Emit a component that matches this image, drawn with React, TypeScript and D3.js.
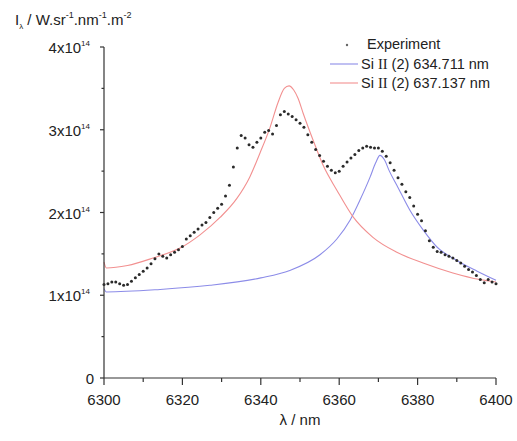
import * as d3 from "d3";

// experiment: one reading per nm, 6300..6400 (units of 1e14 W.sr-1.nm-1.m-2)
const expWavelengths = d3.range(6300, 6401, 1);
const expValues = [
  1.13, 1.14, 1.16, 1.16, 1.14, 1.12, 1.13, 1.17, 1.21, 1.25,
  1.29, 1.33, 1.38, 1.44, 1.5, 1.47, 1.45, 1.49, 1.52, 1.55,
  1.59, 1.68, 1.72, 1.76, 1.8, 1.85, 1.88, 1.94, 2.0, 2.05,
  2.1, 2.2, 2.33, 2.55, 2.78, 2.93, 2.9, 2.82, 2.79, 2.85,
  2.9, 2.97, 2.99, 2.95, 3.05, 3.18, 3.22, 3.19, 3.16, 3.12,
  3.08, 3.03, 2.94, 2.85, 2.76, 2.69, 2.62, 2.56, 2.51, 2.48,
  2.5, 2.56, 2.61, 2.66, 2.7, 2.75, 2.78, 2.8, 2.79, 2.78,
  2.78, 2.74, 2.68, 2.6, 2.51, 2.42, 2.34, 2.25, 2.18, 2.08,
  1.98, 1.9, 1.78, 1.66, 1.58, 1.53, 1.52, 1.49, 1.47, 1.45,
  1.42, 1.39, 1.35, 1.31, 1.28, 1.24, 1.19, 1.15, 1.19, 1.16,
  1.14,
];

// Si II 637.137 nm fit (red)
const redX = [6300, 6300.6, 6306, 6312.5, 6319.4, 6324.5, 6329.6, 6333.9, 6337.2, 6339.8, 6342.3, 6344.4, 6346, 6347.2, 6348.4, 6349.5, 6350.8, 6353.3, 6355.9, 6359.4, 6363.5, 6368.6, 6374.7, 6381.4, 6389, 6395.9, 6400];
const redY = [1.4, 1.33, 1.36, 1.45, 1.57, 1.73, 1.94, 2.17, 2.43, 2.72, 3.02, 3.33, 3.5, 3.53, 3.48, 3.38, 3.2, 2.88, 2.57, 2.27, 1.95, 1.7, 1.52, 1.39, 1.27, 1.19, 1.16];

// Si II 634.711 nm fit (blue)
const blueX = [6300, 6300.6, 6314.3, 6327, 6340, 6347.4, 6355.1, 6359.4, 6362.8, 6365.3, 6367.9, 6369.3, 6370.4, 6371.5, 6372.8, 6374.7, 6378, 6381.4, 6385, 6390, 6395.2, 6400];
const blueY = [1.08, 1.04, 1.07, 1.12, 1.21, 1.3, 1.49, 1.68, 1.91, 2.15, 2.43, 2.6, 2.69, 2.64, 2.5, 2.33, 2.03, 1.79, 1.58, 1.42, 1.29, 1.18];

const xMajor = [6300, 6320, 6340, 6360, 6380, 6400];
const xMinor = [6310, 6330, 6350, 6370, 6390];
const yMajor = [0, 1, 2, 3, 4];
const yMinor = [0.5, 1.5, 2.5, 3.5];

const FONT = "'Liberation Sans', Arial, sans-serif";
const SERIF = "'Liberation Serif', 'Times New Roman', serif";
const AXIS = "#333";
const BLUE = "#8c8ce8";
const RED = "#f29090";

export default function App() {
  const width = 517;
  const height = 441;

  const x = d3.scaleLinear().domain([6300, 6400]).range([104, 496]);
  const y = d3.scaleLinear().domain([0, 4]).range([378, 47]);

  const fitLine = d3
    .line<[number, number]>()
    .x((d) => x(d[0]))
    .y((d) => y(d[1]))
    .curve(d3.curveMonotoneX);

  const redPts = redX.map((v, i) => [v, redY[i]] as [number, number]);
  const bluePts = blueX.map((v, i) => [v, blueY[i]] as [number, number]);

  return (
    <svg
      width={width}
      height={height}
      style={{ position: "absolute", left: 0, top: 0, background: "#fff" }}
      fontFamily={FONT}
    >
      {/* y title */}
      <text x={15} y={25} fontSize={15} fill="#222">
        I<tspan fontSize={8} dy={4}>λ</tspan>
        <tspan fontSize={15} dy={-4}> / W.sr</tspan>
        <tspan fontSize={9} dy={-7}>-1</tspan>
        <tspan fontSize={15} dy={7}>.nm</tspan>
        <tspan fontSize={9} dy={-7}>-1</tspan>
        <tspan fontSize={15} dy={7}>.m</tspan>
        <tspan fontSize={9} dy={-7}>-2</tspan>
      </text>

      {/* fits */}
      <path d={fitLine(bluePts) ?? ""} fill="none" stroke={BLUE} strokeWidth={1.1} />
      <path d={fitLine(redPts) ?? ""} fill="none" stroke={RED} strokeWidth={1.1} />

      {/* experiment */}
      {expWavelengths.map((w, i) => (
        <circle key={`e-${w}`} cx={x(w)} cy={y(expValues[i])} r={1.5} fill="#2a2a2a" />
      ))}

      {/* axes */}
      <line x1={x(6300)} x2={x(6400)} y1={y(0)} y2={y(0)} stroke={AXIS} strokeWidth={1.2} />
      <line x1={x(6300)} x2={x(6300)} y1={y(0)} y2={y(4)} stroke={AXIS} strokeWidth={1.2} />

      {xMajor.map((t) => (
        <g key={`xm-${t}`}>
          <line x1={x(t)} x2={x(t)} y1={y(0)} y2={y(0) + 7} stroke={AXIS} strokeWidth={1.2} />
          <text x={x(t)} y={405} textAnchor="middle" fontSize={15} fill="#222">
            {t}
          </text>
        </g>
      ))}
      {xMinor.map((t) => (
        <line key={`xn-${t}`} x1={x(t)} x2={x(t)} y1={y(0)} y2={y(0) + 4} stroke={AXIS} strokeWidth={1.2} />
      ))}

      {yMajor.map((t) => (
        <g key={`ym-${t}`}>
          <line x1={x(6300) - 4} x2={x(6300)} y1={y(t)} y2={y(t)} stroke={AXIS} strokeWidth={1.2} />
          {t === 0 ? (
            <text x={94} y={y(t) + 6} textAnchor="end" fontSize={15} fill="#222">
              0
            </text>
          ) : (
            <text x={90} y={y(t) + 6} textAnchor="end" fontSize={15} fill="#222">
              {t}x10<tspan fontSize={8} dy={-7}>14</tspan>
            </text>
          )}
        </g>
      ))}
      {yMinor.map((t) => (
        <line key={`yn-${t}`} x1={x(6300) - 2.5} x2={x(6300)} y1={y(t)} y2={y(t)} stroke={AXIS} strokeWidth={1.2} />
      ))}

      {/* x title */}
      <text x={300} y={425} textAnchor="middle" fontSize={15} fill="#222">
        λ / nm
      </text>

      {/* legend */}
      <circle cx={347} cy={45} r={1.2} fill="#666" />
      <text x={367} y={49} fontSize={14.5} fill="#222">Experiment</text>
      <line x1={330} x2={358} y1={64} y2={64} stroke={BLUE} strokeWidth={1.1} />
      <text x={361} y={69} fontSize={14.5} fill="#222">
        Si <tspan fontFamily={SERIF}>II</tspan> (2) 634.711 nm
      </text>
      <line x1={330} x2={358} y1={83} y2={83} stroke={RED} strokeWidth={1.1} />
      <text x={361} y={88} fontSize={14.5} fill="#222">
        Si <tspan fontFamily={SERIF}>II</tspan> (2) 637.137 nm
      </text>
    </svg>
  );
}
